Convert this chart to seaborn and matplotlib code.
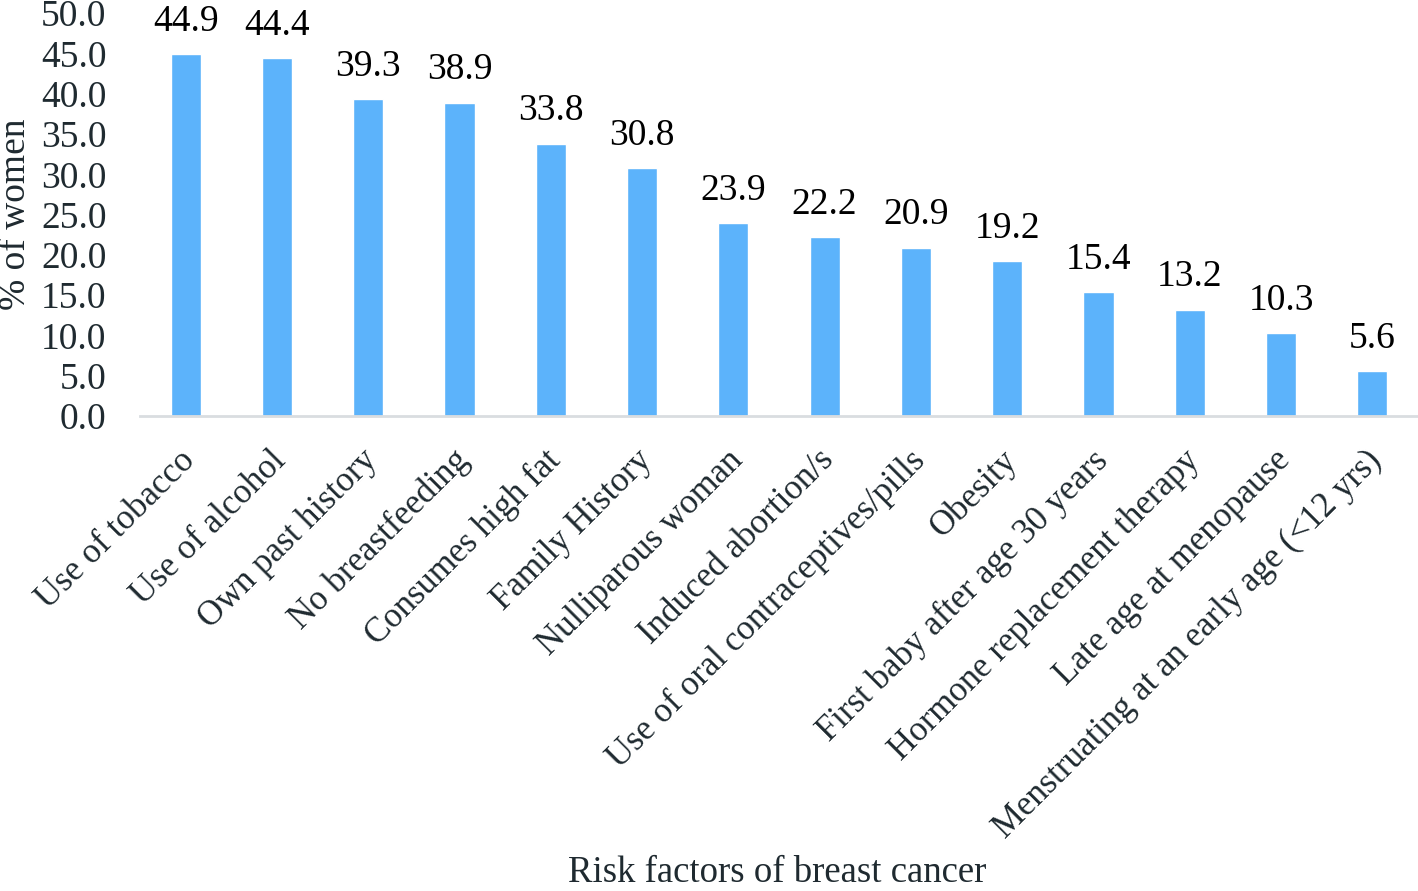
import numpy as np
import matplotlib
matplotlib.use("Agg")
import matplotlib.pyplot as plt
import matplotlib.transforms as mtransforms
import seaborn as sns

factors = ["Use of tobacco", "Use of alcohol", "Own past history", "No breastfeeding",
           "Consumes high fat", "Family History", "Nulliparous woman", "Induced abortion/s",
           "Use of oral contraceptives/pills", "Obesity", "First baby after age 30 years",
           "Hormone replacement therapy", "Late age at menopause",
           "Menstruating at an early age (<12 yrs)"]
percent = [44.9, 44.4, 39.3, 38.9, 33.8, 30.8, 23.9, 22.2, 20.9, 19.2, 15.4, 13.2, 10.3, 5.6]

sns.set_style("white")
plt.rcParams['font.family'] = ['Liberation Serif', 'DejaVu Serif']

fig = plt.figure(figsize=(14.18, 8.91), dpi=100)
ax = fig.add_axes([0.0987, 0.533, 0.9013, 0.4523])

sns.barplot(x=factors, y=percent, color="#5CB3FB", saturation=1, width=0.33, ax=ax)

for i, v in enumerate(percent):
    ax.text(i, v + 1.9, f"{v:.1f}", ha="center", va="bottom", fontsize=27, color="black")

ax.set_ylim(0, 50)
ax.set_yticks(np.arange(0, 50.1, 5))
ax.set_yticklabels([f"{t:.1f}" for t in np.arange(0, 50.1, 5)], fontsize=27, color="#1f2a30")
ax.set_xlim(-0.5, len(factors) - 0.5)
ax.set_xticks(range(len(factors)))
ax.set_xticklabels(factors, rotation=45, ha="right", rotation_mode="anchor",
                   fontsize=25, color="#1f2a30")
ax.tick_params(axis="y", length=0, pad=24)
ax.tick_params(axis="x", length=0, pad=20)
shift = mtransforms.ScaledTranslation(-7 / 100, 0, fig.dpi_scale_trans)
for lbl in ax.get_xticklabels():
    lbl.set_transform(lbl.get_transform() + shift)

for s in ["top", "right", "left"]:
    ax.spines[s].set_visible(False)
ax.spines["bottom"].set_color("#d9dde0")
ax.spines["bottom"].set_linewidth(2)

ax.set_ylabel("% of women", fontsize=27, color="#1f2a30", labelpad=6)
fig.text(0.548, 0.001, "Risk factors of breast cancer", ha="center", va="bottom",
         fontsize=26.5, color="#1f2a30")

fig.savefig("out.png", dpi=100)
